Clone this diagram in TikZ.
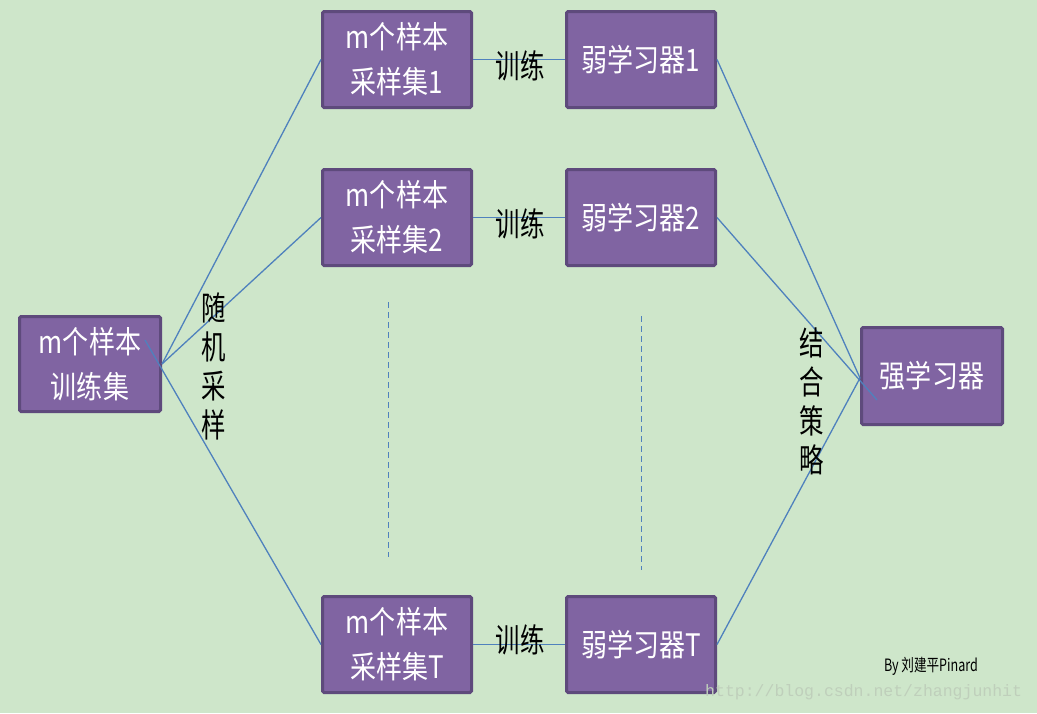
\documentclass[tikz,border=0pt]{standalone}
\usepackage{fontspec}
\setmainfont{Noto Sans CJK SC}
\newfontfamily\cjkbox[FakeStretch=0.84]{Noto Sans CJK SC}
\newfontfamily\cjklab[FakeStretch=0.74]{Noto Sans CJK SC}
\newfontfamily\wmfont{Liberation Mono}
\definecolor{bggreen}{HTML}{CEE6CA}
\definecolor{boxfill}{HTML}{8064A2}
\definecolor{boxedge}{HTML}{5E4A7C}
\definecolor{linkblue}{HTML}{4F81BD}
\definecolor{wmgray}{HTML}{BFCFBB}
\tikzset{
  pbox/.style={draw=boxedge, line width=3pt, fill=boxfill, rounded corners=1.5pt,
    text=white, align=center, inner sep=0pt,
    font=\cjkbox\fontsize{31}{45}\selectfont},
  link/.style={draw=linkblue, line width=1.3pt},
  trainlbl/.style={text=black, inner sep=0pt, font=\cjklab\fontsize{33}{39}\selectfont},
  vlbl/.style={text=black, inner sep=0pt, align=center, font=\cjklab\fontsize{33}{39}\selectfont},
  dots/.style={draw=linkblue, line width=0.9pt, dash pattern=on 6pt off 4pt}
}
\begin{document}
\begin{tikzpicture}[x=1pt,y=-1pt]
\useasboundingbox (0,0) rectangle (1037,713);
\fill[bggreen] (0,0) rectangle (1037,713);

% boxes
\node[pbox, minimum width=141pt, minimum height=95pt] (tr) at (90,364) {m个样本\\训练集};
\node[pbox, minimum width=149pt, minimum height=96pt] (s1) at (397,59.5) {m个样本\\采样集1};
\node[pbox, minimum width=149pt, minimum height=96pt] (s2) at (397,217.5) {m个样本\\采样集2};
\node[pbox, minimum width=149pt, minimum height=96pt] (sT) at (397,644.5) {m个样本\\采样集T};
\node[pbox, minimum width=149pt, minimum height=96pt] (w1) at (641,59.5) {弱学习器1};
\node[pbox, minimum width=149pt, minimum height=96pt] (w2) at (641,217.5) {弱学习器2};
\node[pbox, minimum width=149pt, minimum height=96pt] (wT) at (641,644.5) {弱学习器T};
\node[pbox, minimum width=141pt, minimum height=97pt] (st) at (932,376) {强学习器};

% connector helper points
\coordinate (trin) at (145,340);
\coordinate (stin) at (877,400);
\coordinate (join) at (860,378);

% left fan
\draw[link] (tr.east) -- (s1.west);
\draw[link] (tr.east) -- (s2.west);
\draw[link] (trin) -- (sT.west);

% training links
\draw[link] (s1.east) -- (w1.west);
\draw[link] (s2.east) -- (w2.west);
\draw[link] (sT.east) -- (wT.west);

% right fan
\draw[link] (w1.east) -- (join);
\draw[link] (w2.east) -- (stin);
\draw[link] (wT.east) -- (join);

% dashed ellipsis lines
\draw[dots] (388,302) -- (388,557);
\draw[dots] (641,316) -- (641,570);

% labels
\node[trainlbl] (t1) at (520,66) {训练};
\node[trainlbl] (t2) at (520,224) {训练};
\node[trainlbl] (t3) at (520,640) {训练};
\node[vlbl] (rs) at (214,366) {随\\机\\采\\样};
\node[vlbl] (cs) at (812,401) {结\\合\\策\\略};

\node[text=black, inner sep=0pt, font=\cjklab\fontsize{17}{17}\selectfont] (by) at (931,666) {By 刘建平Pinard};
\node[text=wmgray, inner sep=0pt, anchor=west, font=\wmfont\fontsize{16.5}{16.5}\selectfont] (wm) at (705,692) {http://blog.csdn.net/zhangjunhit};
\end{tikzpicture}
\end{document}
